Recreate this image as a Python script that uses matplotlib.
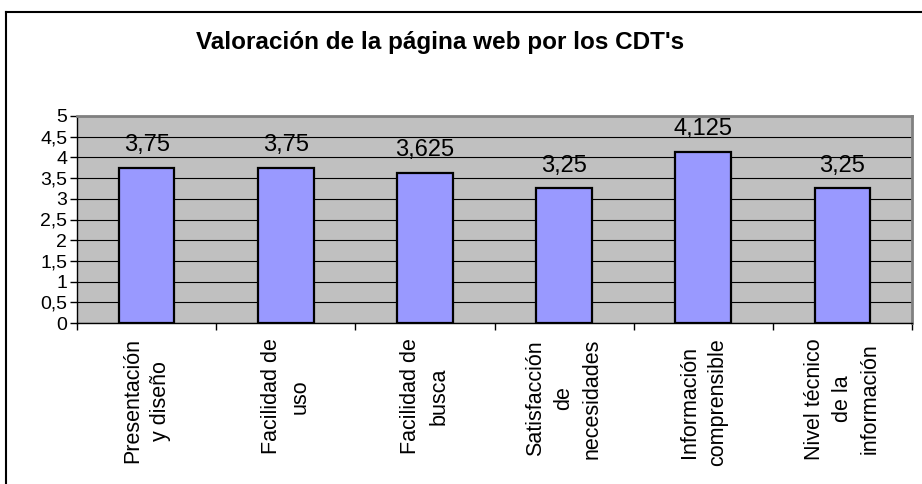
import matplotlib
matplotlib.use("Agg")
import matplotlib.pyplot as plt
from matplotlib.lines import Line2D
from matplotlib.ticker import FuncFormatter, MultipleLocator

plt.rcParams['font.family'] = ['Liberation Sans', 'DejaVu Sans']

categorias = ["Presentación\ny diseño", "Facilidad de\nuso", "Facilidad de\nbusca",
              "Satisfacción\nde\nnecesidades", "Información\ncomprensible",
              "Nivel técnico\nde la\ninformación"]
valores = [3.75, 3.75, 3.625, 3.25, 4.125, 3.25]
titulo = "Valoración de la página web por los CDT's"


def coma(v, pos=None):
    s = ('%g' % v)
    return s.replace('.', ',')


fig = plt.figure(figsize=(9.22, 4.84), dpi=100)
ax = fig.add_axes([77 / 922, 1 - 323 / 484, (912 - 77) / 922, (323 - 116) / 484])
ax.set_facecolor('#C0C0C0')

x = list(range(len(categorias)))
bars = ax.bar(x, valores, width=0.4, color='#9999FF', edgecolor='black', linewidth=1.6, zorder=3)

for xi, v in zip(x, valores):
    ax.annotate(coma(v), (xi, v), xytext=(0, 8.5), textcoords='offset points',
                ha='center', va='bottom', fontsize=17)

ax.set_xlim(-0.5, len(categorias) - 0.5)
ax.set_ylim(0, 5)
ax.yaxis.set_major_locator(MultipleLocator(0.5))
ax.yaxis.set_major_formatter(FuncFormatter(coma))
ax.grid(axis='y', color='black', linewidth=0.8, zorder=1)
ax.set_axisbelow(True)

ax.set_xticks(x)
ax.set_xticklabels(categorias, rotation=90, fontsize=15.5, ha='center', va='top',
                   multialignment='center', linespacing=1.45)
ax.set_xticks([i - 0.5 for i in range(len(categorias) + 1)], minor=True)
ax.tick_params(axis='x', which='major', length=0, pad=11)
ax.tick_params(axis='x', which='minor', length=5, width=1, direction='out')
ax.tick_params(axis='y', length=5, width=1, direction='out', labelsize=14, pad=2)

for side in ['top', 'right']:
    ax.spines[side].set_color('#808080')
    ax.spines[side].set_linewidth(2)
for side in ['left', 'bottom']:
    ax.spines[side].set_color('black')
    ax.spines[side].set_linewidth(1)

fig.text(440 / 922, 1 - 42 / 484, titulo, ha='center', va='center',
         fontsize=17.5, fontweight='bold')

# borde del area del grafico (solo arriba e izquierda visibles)
fig.add_artist(Line2D([6 / 922, 1], [1 - 12 / 484, 1 - 12 / 484], color='black', linewidth=1.5))
fig.add_artist(Line2D([6 / 922, 6 / 922], [0, 1 - 12 / 484], color='black', linewidth=1.5))

fig.savefig('out.png', dpi=100)
